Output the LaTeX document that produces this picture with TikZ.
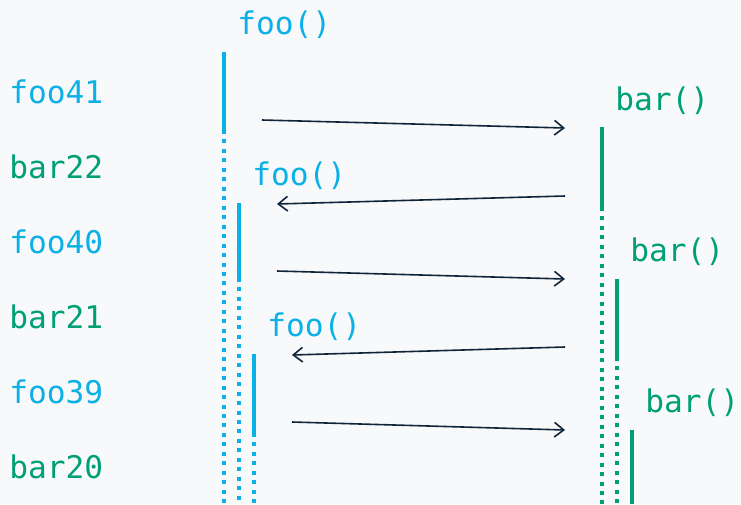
\documentclass[tikz,border=0pt]{standalone}
\usepackage{fontspec}
\setmonofont{DejaVu Sans Mono}
\usetikzlibrary{arrows.meta}
\definecolor{bg}{HTML}{F8F9FA}
\definecolor{fooc}{HTML}{0AB0E6}
\definecolor{barc}{HTML}{00A077}
\definecolor{msgc}{HTML}{10243A}
\begin{document}
\begin{tikzpicture}[x=0.75pt,y=-0.75pt,
  lbl/.style={anchor=base west,inner sep=0pt,font=\ttfamily\fontsize{23.4}{27}\selectfont},
  foolbl/.style={lbl,text=fooc},
  barlbl/.style={lbl,text=barc},
  act/.style={line width=3pt},
  life/.style={line width=3pt,dash pattern=on 3pt off 4.1pt},
  msg/.style={draw=msgc,line width=1.2pt,-{Straight Barb[length=7pt,width=11pt,line width=1.2pt]}}]
\fill[bg] (0,0) rectangle (741,504);
\useasboundingbox (0,0) rectangle (741,504);
% left labels
\node[foolbl] (l1) at (9,103) {foo41};
\node[barlbl] (l2) at (9,178) {bar22};
\node[foolbl] (l3) at (9,253) {foo40};
\node[barlbl] (l4) at (9,328) {bar21};
\node[foolbl] (l5) at (9,403) {foo39};
\node[barlbl] (l6) at (9,478) {bar20};
% call labels
\node[foolbl] (f1) at (237,34) {foo()};
\node[foolbl] (f2) at (252,185) {foo()};
\node[foolbl] (f3) at (267,336) {foo()};
\node[barlbl] (b1) at (615,110) {bar()};
\node[barlbl] (b2) at (630,261) {bar()};
\node[barlbl] (b3) at (645,412) {bar()};
% lifelines foo
\coordinate (fa1) at (224,52); \coordinate (fz1) at (224,130); \coordinate (fe1) at (224,504);
\coordinate (fa2) at (239,203); \coordinate (fz2) at (239,278); \coordinate (fe2) at (239,504);
\coordinate (fa3) at (254,354); \coordinate (fz3) at (254,433); \coordinate (fe3) at (254,504);
\draw[act,fooc] (fa1) -- (fz1); \draw[life,fooc] (fz1) -- (fe1);
\draw[act,fooc] (fa2) -- (fz2); \draw[life,fooc] (fz2) -- (fe2);
\draw[act,fooc] (fa3) -- (fz3); \draw[life,fooc] (fz3) -- (fe3);
% lifelines bar
\coordinate (ba1) at (602,127); \coordinate (bz1) at (602,207); \coordinate (be1) at (602,504);
\coordinate (ba2) at (617,279); \coordinate (bz2) at (617,357); \coordinate (be2) at (617,504);
\coordinate (ba3) at (632,430); \coordinate (be3) at (632,504);
\draw[act,barc] (ba1) -- (bz1); \draw[life,barc] (bz1) -- (be1);
\draw[act,barc] (ba2) -- (bz2); \draw[life,barc] (bz2) -- (be2);
\draw[act,barc] (ba3) -- (be3);
% messages
\coordinate (m1s) at (262,120); \coordinate (m1e) at (565,128);
\coordinate (m2s) at (565,196); \coordinate (m2e) at (277,204);
\coordinate (m3s) at (277,271); \coordinate (m3e) at (565,279);
\coordinate (m4s) at (565,347); \coordinate (m4e) at (292,355);
\coordinate (m5s) at (292,422); \coordinate (m5e) at (565,430);
\draw[msg] (m1s) -- (m1e);
\draw[msg] (m2s) -- (m2e);
\draw[msg] (m3s) -- (m3e);
\draw[msg] (m4s) -- (m4e);
\draw[msg] (m5s) -- (m5e);
\end{tikzpicture}
\end{document}
